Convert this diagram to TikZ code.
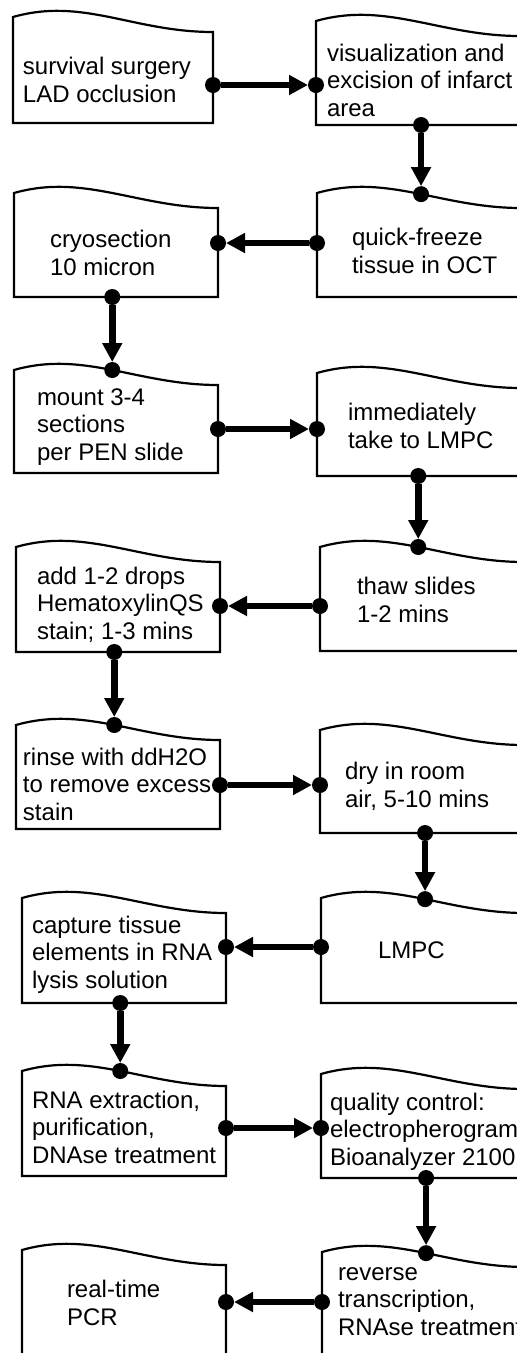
\documentclass[tikz,border=0pt]{standalone}
\usepackage{fontspec}
\setmainfont{Liberation Sans}
\usetikzlibrary{arrows.meta}

\tikzset{
  boxarea/.style={rectangle, inner sep=0pt, outer sep=0pt},
  boxline/.style={draw=black, line width=2.2pt, line join=miter},
  % multi-line labels: the base anchor sits on the last line
  txt/.style={anchor=base west, inner sep=0pt, outer sep=0pt, align=left,
              font=\fontsize{24}{27.5}\selectfont},
  dot/.style={circle, fill=black, minimum size=16pt, inner sep=0pt, outer sep=0pt},
  conn/.style={line width=6.5pt, -{Triangle[length=19pt,width=19pt]}}
}

% wavy-topped process box: [pos of top dot] name, left x, right x, top-left y, bottom y
\newcommand\docbox[6][0.5]{%
  \node[boxarea, minimum width={(#4-#3)*1pt}, minimum height={(#6-#5)*1pt},
        anchor=south west] (#2) at (#3,#6) {};
  \draw[boxline] (#2.south west) -- (#2.north west)
    .. controls +(70,-20) and +(-80,0) .. ([yshift=-15pt]#2.north east)
    coordinate[pos=#1] (#2-w)
    -- (#2.south east) -- cycle;
}

\begin{document}
\begin{tikzpicture}[x=1pt, y=-1pt]
\useasboundingbox (0,0) rectangle (517,1353);

% boxes
\docbox{b1L}{13}{213}{17}{123}
\docbox[0.53]{b1R}{316}{520}{21}{125}
\docbox{b2L}{14}{218}{193}{297}
\docbox[0.53]{b2R}{317}{521}{193}{297}
\docbox{b3L}{14}{218}{370}{473}
\docbox[0.53]{b3R}{317}{521}{373}{476}
\docbox{b4L}{16}{220}{547}{652}
\docbox[0.5]{b4R}{320}{524}{547}{651}
\docbox{b5L}{16}{220}{725}{829}
\docbox[0.53]{b5R}{320}{524}{730}{833}
\docbox{b6L}{22}{226}{898}{1003}
\docbox[0.53]{b6R}{321}{525}{898}{1003}
\docbox{b7L}{22}{226}{1071}{1176}
\docbox[0.53]{b7R}{321}{525}{1074}{1178}
\docbox{b8L}{22}{226}{1250}{1370}
\docbox[0.53]{b8R}{322}{526}{1252}{1370}

% labels (positions give the baseline of the last line)
\node[txt] (t1L) at (23,102)  {survival surgery\\LAD occlusion};
\node[txt] (t1R) at (327,116) {visualization and\\excision of infarct\\area};
\node[txt] (t2L) at (50,275)  {cryosection\\10 micron};
\node[txt] (t2R) at (352,273) {quick-freeze\\tissue in OCT};
\node[txt] (t3L) at (37,460)  {mount 3-4\\sections\\per PEN slide};
\node[txt] (t3R) at (348,448) {immediately\\take to LMPC};
\node[txt] (t4L) at (37,639)  {add 1-2 drops\\HematoxylinQS\\stain; 1-3 mins};
\node[txt] (t4R) at (357,622) {thaw slides\\1-2 mins};
\node[txt] (t5L) at (23,820)  {rinse with ddH2O\\to remove excess\\stain};
\node[txt] (t5R) at (345,807) {dry in room\\air, 5-10 mins};
\node[txt] (t6L) at (32,988)  {capture tissue\\elements in RNA\\lysis solution};
\node[txt] (t6R) at (378,958) {LMPC};
\node[txt] (t7L) at (32,1163) {RNA extraction,\\purification,\\DNAse treatment};
\node[txt] (t7R) at (330,1165) {quality control:\\electropherogram\\Bioanalyzer 2100};
\node[txt] (t8L) at (67,1325) {real-time\\PCR};
\node[txt] (t8R) at (338,1335) {reverse\\transcription,\\RNAse treatment};

% horizontal links
\node[dot] (h1a) at (b1L.east |- 0,85) {};
\node[dot] (h1b) at (b1R.west |- 0,85) {};
\draw[conn] (h1a) -- (h1b);
\node[dot] (h2a) at (b2R.west |- 0,243) {};
\node[dot] (h2b) at (b2L.east |- 0,243) {};
\draw[conn] (h2a) -- (h2b);
\node[dot] (h3a) at (b3L.east |- 0,429) {};
\node[dot] (h3b) at (b3R.west |- 0,429) {};
\draw[conn] (h3a) -- (h3b);
\node[dot] (h4a) at (b4R.west |- 0,606) {};
\node[dot] (h4b) at (b4L.east |- 0,606) {};
\draw[conn] (h4a) -- (h4b);
\node[dot] (h5a) at (b5L.east |- 0,785) {};
\node[dot] (h5b) at (b5R.west |- 0,785) {};
\draw[conn] (h5a) -- (h5b);
\node[dot] (h6a) at (b6R.west |- 0,947) {};
\node[dot] (h6b) at (b6L.east |- 0,947) {};
\draw[conn] (h6a) -- (h6b);
\node[dot] (h7a) at (b7L.east |- 0,1128) {};
\node[dot] (h7b) at (b7R.west |- 0,1128) {};
\draw[conn] (h7a) -- (h7b);
\node[dot] (h8a) at (b8R.west |- 0,1302) {};
\node[dot] (h8b) at (b8L.east |- 0,1302) {};
\draw[conn] (h8a) -- (h8b);

% vertical links
\node[dot] (v1a) at (b2R-w |- b1R.south) {};
\node[dot] (v1b) at (b2R-w) {};
\draw[conn] (v1a) -- (v1b);
\node[dot] (v2a) at (b3L-w |- b2L.south) {};
\node[dot] (v2b) at (b3L-w) {};
\draw[conn] (v2a) -- (v2b);
\node[dot] (v3a) at (b4R-w |- b3R.south) {};
\node[dot] (v3b) at (b4R-w) {};
\draw[conn] (v3a) -- (v3b);
\node[dot] (v4a) at (b5L-w |- b4L.south) {};
\node[dot] (v4b) at (b5L-w) {};
\draw[conn] (v4a) -- (v4b);
\node[dot] (v5a) at (b6R-w |- b5R.south) {};
\node[dot] (v5b) at (b6R-w) {};
\draw[conn] (v5a) -- (v5b);
\node[dot] (v6a) at (b7L-w |- b6L.south) {};
\node[dot] (v6b) at (b7L-w) {};
\draw[conn] (v6a) -- (v6b);
\node[dot] (v7a) at (b8R-w |- b7R.south) {};
\node[dot] (v7b) at (b8R-w) {};
\draw[conn] (v7a) -- (v7b);
\end{tikzpicture}
\end{document}
